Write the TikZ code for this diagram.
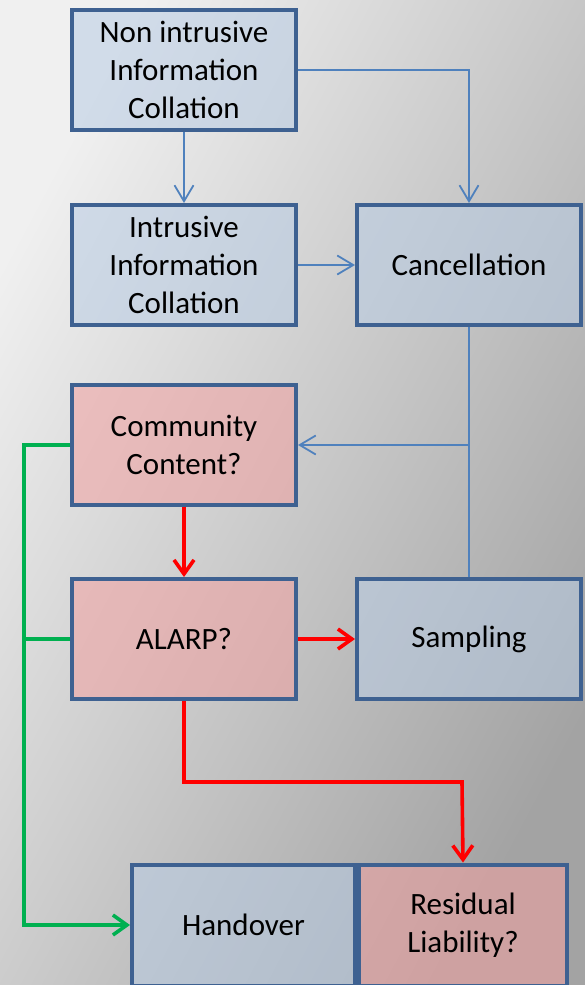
\documentclass[tikz,border=0pt]{standalone}
\usepackage{fontspec}
\setmainfont{Carlito}
\usetikzlibrary{arrows.meta}
\definecolor{boxline}{HTML}{3E6191}
\definecolor{blueline}{HTML}{4F81BD}
\definecolor{greenline}{HTML}{00B050}
\definecolor{bluefill}{HTML}{B8CCE4}
\definecolor{redfill}{HTML}{F2A0A0}

\begin{document}
\begin{tikzpicture}[x=1pt,y=-1pt]
\tikzset{box/.style = {shape=rectangle,draw=boxline,line width=4pt,minimum width=224pt,minimum height=120pt,align=center,font=\fontsize{31}{38}\selectfont,fill opacity=0.55,text opacity=1}}
\tikzset{bluebox/.style = {box,fill=bluefill}}
\tikzset{redbox/.style = {box,fill=redfill}}
\tikzset{bedge/.style = {draw=blueline,line width=1.8pt,-{Straight Barb[length=16pt,width=19pt,line width=1.8pt]}}}
\tikzset{redge/.style = {draw=red,line width=3.6pt,-{Straight Barb[length=14pt,width=20pt,line width=3.6pt]}}}
\tikzset{gedge/.style = {draw=greenline,line width=3.6pt,-{Straight Barb[length=14pt,width=20pt,line width=3.6pt]}}}
\shade[shading=axis,top color=gray!12,bottom color=gray!72,shading angle=62] (0,0) rectangle (585,985);
\useasboundingbox (0,0) rectangle (585,985);

\node[bluebox] (nic) at (184,70) {Non intrusive\\Information\\Collation};
\node[bluebox] (iic) at (184,265) {Intrusive\\Information\\Collation};
\node[bluebox] (canc) at (469,265) {Cancellation};
\node[redbox] (comm) at (184,445) {Community\\Content?};
\node[redbox] (alarp) at (184,639) {ALARP?};
\node[bluebox] (samp) at (469,639) {Sampling};
\node[bluebox,minimum width=223pt,minimum height=121pt] (hand) at (243.5,925) {Handover};
\node[redbox,minimum width=208pt,minimum height=121pt] (resid) at (463,925) {Residual\\Liability?};

\coordinate (jn) at (469,445);
\coordinate (gtop) at (24,445);
\coordinate (gbot) at (24,925);
\coordinate (gmid) at (24,639);

\draw[bedge] (nic) to (iic);
\draw[bedge] (nic.east) -| (canc.north);
\draw[bedge] (iic) to (canc);
\draw[draw=blueline,line width=1.8pt] (canc.south) to (samp.north);
\draw[bedge] (jn) to (comm.east);
\draw[redge] (comm) to (alarp);
\draw[redge] (alarp) to (samp);
\draw[redge] (alarp.south) |- (462,782) -- (resid.north);
\draw[gedge] (comm.west) -- (gtop) -- (gbot) -- (hand.west);
\draw[draw=greenline,line width=3.6pt] (alarp.west) -- (gmid);
\end{tikzpicture}
\end{document}
